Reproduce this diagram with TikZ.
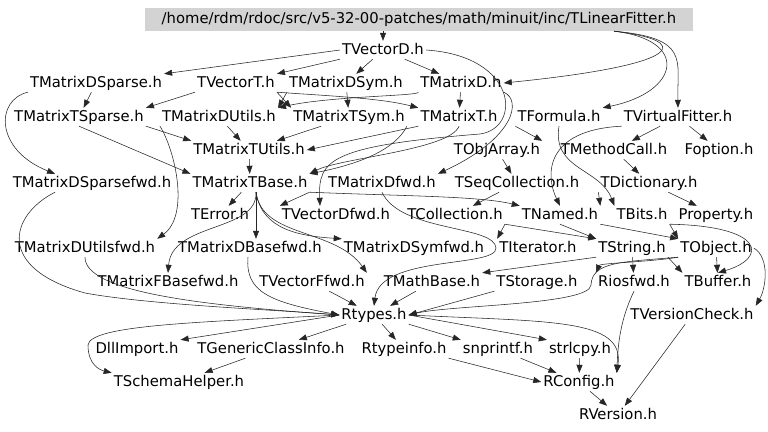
\documentclass[tikz,border=0pt]{standalone}
\usepackage{fontspec}
\setmainfont{DejaVu Sans}
\usepackage{tikz}
\usetikzlibrary{arrows.meta}

\begin{document}
\begin{tikzpicture}[
  x=1pt, y=1pt,
  every node/.style={
    inner sep=2pt,
    text height=11pt,
    text depth=3pt,
    font=\fontsize{14.8}{17}\selectfont
  },
  rootfile/.style={
    fill={rgb,255:red,211;green,211;blue,211},
    minimum width=548pt,
    minimum height=23pt
  },
  inc/.style={
    draw=black!85,
    line width=0.55pt,
    -{Triangle[length=8pt,width=6pt]}
  }
]
\useasboundingbox[fill=white] (0,0) rectangle (768,-431);

\node[rootfile] (root) at (419,-19.5) {/home/rdm/rdoc/src/v5-32-00-patches/math/minuit/inc/TLinearFitter.h};

\node (tvectord) at (383,-50) {TVectorD.h};

\node (tmatrixdsparse) at (96,-83) {TMatrixDSparse.h};
\node (tvectort) at (236,-83) {TVectorT.h};
\node (tmatrixdsym) at (346,-83) {TMatrixDSym.h};
\node (tmatrixd) at (461,-83) {TMatrixD.h};

\node (tmatrixtsparse) at (79,-117) {TMatrixTSparse.h};
\node (tmatrixdutils) at (219,-117) {TMatrixDUtils.h};
\node (tmatrixtsym) at (349,-117) {TMatrixTSym.h};
\node (tmatrixt) at (459,-117) {TMatrixT.h};
\node (tformula) at (559,-117) {TFormula.h};
\node (tvirtualfitter) at (678,-117) {TVirtualFitter.h};

\node (tmatrixtutils) at (249,-150) {TMatrixTUtils.h};
\node (tobjarray) at (497,-150) {TObjArray.h};
\node (tmethodcall) at (614,-150) {TMethodCall.h};
\node (foption) at (719,-150) {Foption.h};

\node (tmatrixdsparsefwd) at (92,-183) {TMatrixDSparsefwd.h};
\node (tmatrixtbase) at (250,-183) {TMatrixTBase.h};
\node (tmatrixdfwd) at (382,-183) {TMatrixDfwd.h};
\node (tseqcollection) at (517,-183) {TSeqCollection.h};
\node (tdictionary) at (649,-183) {TDictionary.h};

\node (terror) at (220,-215) {TError.h};
\node (tvectordfwd) at (336,-215) {TVectorDfwd.h};
\node (tcollection) at (455,-215) {TCollection.h};
\node (tnamed) at (560,-215) {TNamed.h};
\node (tbits) at (642,-215) {TBits.h};
\node (property) at (716,-215) {Property.h};

\node (tmatrixdutilsfwd) at (85,-248) {TMatrixDUtilsfwd.h};
\node (tmatrixdbasefwd) at (250,-248) {TMatrixDBasefwd.h};
\node (tmatrixdsymfwd) at (414,-248) {TMatrixDSymfwd.h};
\node (titerator) at (538,-248) {TIterator.h};
\node (tstring) at (632,-248) {TString.h};
\node (tobject) at (716,-248) {TObject.h};

\node (tmatrixfbasefwd) at (168,-282) {TMatrixFBasefwd.h};
\node (tvectorffwd) at (312,-282) {TVectorFfwd.h};
\node (tmathbase) at (432,-282) {TMathBase.h};
\node (tstorage) at (537,-282) {TStorage.h};
\node (riosfwd) at (634,-282) {Riosfwd.h};
\node (tbuffer) at (718,-282) {TBuffer.h};

\node (rtypes) at (374,-315) {Rtypes.h};
\node (tversioncheck) at (692,-315) {TVersionCheck.h};

\node (dllimport) at (137,-349) {DllImport.h};
\node (tgenericclassinfo) at (271,-349) {TGenericClassInfo.h};
\node (rtypeinfo) at (404,-349) {Rtypeinfo.h};
\node (snprintf) at (498,-349) {snprintf.h};
\node (strlcpy) at (580,-349) {strlcpy.h};

\node (tschemahelper) at (179,-382) {TSchemaHelper.h};
\node (rconfig) at (579,-382) {RConfig.h};

\node (rversion) at (618,-415) {RVersion.h};

% top file
\draw[inc] (root.south -| tvectord.north) -- (tvectord.north);
\draw[inc] ([xshift=195pt]root.south) .. controls (690,-40) and (692,-64) .. (tmatrixd.east);
\draw[inc] ([xshift=195pt]root.south) .. controls (690,-40) and (680,-92) .. (tformula.north east);
\draw[inc] ([xshift=195pt]root.south) .. controls (690,-38) and (677,-60) .. (tvirtualfitter.north);

% vectors and matrices
\draw[inc] (tvectord.west) -- (tmatrixdsparse.north east);
\draw[inc] (tvectord.south west) -- (tvectort.north east);
\draw[inc] (tvectord) -- (tmatrixdsym);
\draw[inc] (tvectord) -- (tmatrixd);
\draw[inc] (tvectord.east) .. controls (518,-56) and (522,-128) .. (480,-134)
  .. controls (330,-146) and (318,-160) .. ([xshift=-16pt]tvectordfwd.north);
\draw[inc] (tmatrixdsparse) -- (tmatrixtsparse);
\draw[inc] (tmatrixdsparse.south west) .. controls (-5,-100) and (-5,-150) .. ([xshift=-37pt]tmatrixdsparsefwd.north);
\draw[inc] (tvectort.south west) -- (tmatrixtsparse.north east);
\draw[inc] (tvectort.south east) -- (tmatrixtsym.north west);
\draw[inc] (tvectort.south east) .. controls (330,-96) and (380,-98) .. (tmatrixt.north west);
\draw[inc] (tmatrixdsym.south west) -- (tmatrixdutils.north east);
\draw[inc] (tmatrixdsym) -- (tmatrixtsym);
\draw[inc] (tmatrixd) -- (tmatrixt);
\draw[inc] (tmatrixd.south west) .. controls (420,-96) and (330,-96) .. (tmatrixdutils.north east);
\draw[inc] (tmatrixd.south east) .. controls (522,-100) and (515,-138) .. (tmatrixdfwd.north east);
\draw[inc] (tmatrixtsparse.south east) -- (tmatrixtutils.north west);
\draw[inc] (tmatrixtsparse.south) -- (tmatrixtbase.north west);
\draw[inc] (tmatrixdutils) -- (tmatrixtutils);
\draw[inc] (tmatrixdutils.south west) .. controls (175,-150) and (190,-215) .. (tmatrixdutilsfwd.north east);
\draw[inc] (tmatrixtsym) -- (tmatrixtutils);
\draw[inc] (tmatrixtsym.south east) .. controls (400,-140) and (380,-160) .. (tmatrixtbase.north east);
\draw[inc] (tmatrixt.south west) -- (tmatrixtutils.east);
\draw[inc] (tmatrixt.south) .. controls (450,-150) and (340,-158) .. (tmatrixtbase.north east);
\draw[inc] (tmatrixtutils) -- (tmatrixtbase);

% base classes
\draw[inc] (tmatrixtbase) -- (terror);
\draw[inc] (tmatrixtbase.south east) -- (tvectordfwd.north west);
\draw[inc] ([xshift=6pt]tmatrixtbase.south) -- ([xshift=6pt]tmatrixdbasefwd.north);
\draw[inc] ([xshift=6pt]tmatrixtbase.south) .. controls (258,-232) and (172,-222) .. (tmatrixfbasefwd.north);
\draw[inc] ([xshift=6pt]tmatrixtbase.south) .. controls (262,-238) and (335,-228) .. (tvectorffwd.north east);
\draw[inc] ([xshift=6pt]tmatrixtbase.south) .. controls (262,-230) and (300,-236) .. (tmatrixdsymfwd.north west);
\draw[inc] (tmatrixtbase.south east) .. controls (400,-196) and (480,-196) .. (tnamed.north west);

% core
\draw[inc] (tformula.south west) -- (tobjarray.north east);
\draw[inc] (tformula.south) .. controls (552,-170) and (600,-168) .. (tbits.north west);
\draw[inc] (tvirtualfitter.south west) .. controls (545,-130) and (545,-175) .. (tnamed.north);
\draw[inc] (tvirtualfitter) -- (tmethodcall);
\draw[inc] (tvirtualfitter) -- (foption);
\draw[inc] (tobjarray) -- (tseqcollection);
\draw[inc] (tmethodcall) -- (tdictionary);
\draw[inc] (tdictionary.south west) -- (tnamed.north east);
\draw[inc] (tdictionary) -- (property);
\draw[inc] (tseqcollection) -- (tcollection);
\draw[inc] (tcollection.south east) -- (titerator.north west);
\draw[inc] (tcollection.south east) -- (tstring.north west);
\draw[inc] (tnamed.south) -- (tstring.north west);
\draw[inc] (tnamed.south east) -- (tobject.north west);
\draw[inc] (tbits.south east) -- (tobject.north west);
\draw[inc] (tbits.south east) .. controls (765,-226) and (768,-258) .. (tbuffer.north);
\draw[inc] (tstring.south west) -- (tmathbase.north east);
\draw[inc] (tstring) -- (riosfwd);
\draw[inc] (tstring.south east) -- (tbuffer.north west);
\draw[inc] (tobject) -- (tbuffer);
\draw[inc] (tobject.south west) .. controls (650,-262) and (600,-263) .. (riosfwd.north west);
\draw[inc] (tobject.east) .. controls (770,-258) and (766,-288) .. (tversioncheck.north east);

% into Rtypes
\draw[inc] ([xshift=-37pt]tmatrixdsparsefwd.south) .. controls (10,-215) and (-5,-268) .. (85,-293)
  .. controls (150,-305) and (280,-310) .. (rtypes.west);
\draw[inc] (tmatrixdutilsfwd.south) .. controls (85,-292) and (200,-305) .. (rtypes.west);
\draw[inc] ([xshift=-2pt]tmatrixdbasefwd.south) .. controls (245,-292) and (270,-302) .. (rtypes.west);
\draw[inc] (tvectorffwd) -- (rtypes);
\draw[inc] (tmathbase) -- (rtypes);
\draw[inc] (tstorage.south west) -- (rtypes.east);
\draw[inc] (tmatrixdfwd.south) .. controls (400,-232) and (495,-225) .. (496,-248)
  .. controls (497,-268) and (380,-255) .. (rtypes.north);
\draw[inc] (tobject.south west) .. controls (620,-262) and (592,-262) .. (591,-285)
  .. controls (590,-305) and (450,-305) .. (rtypes.east);

% out of Rtypes
\draw[inc] (rtypes.west) -- (dllimport.north east);
\draw[inc] (rtypes) -- (tgenericclassinfo);
\draw[inc] (rtypes) -- (rtypeinfo);
\draw[inc] (rtypes.south east) -- (snprintf.north west);
\draw[inc] (rtypes.east) -- (strlcpy.north west);
\draw[inc] (rtypes.east) .. controls (550,-322) and (625,-318) .. (rconfig.north east);
\draw[inc] (rtypes.west) .. controls (200,-322) and (90,-325) .. (88,-345)
  .. controls (88,-365) and (100,-370) .. (tschemahelper.north west);
\draw[inc] (tgenericclassinfo) -- (tschemahelper);
\draw[inc] (rtypeinfo.south east) -- (rconfig.west);
\draw[inc] (snprintf) -- (rconfig);
\draw[inc] (strlcpy) -- (rconfig);
\draw[inc] (riosfwd.south) .. controls (620,-320) and (618,-345) .. (rconfig.north east);
\draw[inc] (rconfig) -- (rversion);
\draw[inc] (tversioncheck) -- (rversion);

\end{tikzpicture}
\end{document}
